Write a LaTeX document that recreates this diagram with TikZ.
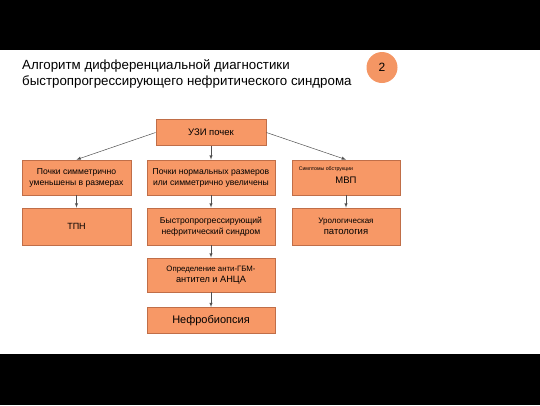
\documentclass[tikz,border=0pt]{standalone}
\usepackage{fontspec}
\setmainfont{Liberation Sans}
\definecolor{boxorange}{RGB}{247, 152, 102}
\definecolor{boxedge}{RGB}{192, 110, 72}
\definecolor{circleorange}{RGB}{244, 150, 100}
\definecolor{conngray}{RGB}{80, 80, 80}
\usetikzlibrary{positioning, calc}
\tikzset{
  stepbox/.style={rectangle, draw=boxedge, fill=boxorange, line width=0.8pt, minimum width=#1, minimum height=35pt, align=center, inner sep=1pt, font=\fontsize{8.6}{11}\selectfont},
  conn/.style={draw=conngray, line width=0.5pt, -latex},
  titletext/.style={font=\fontsize{13.3}{16}\selectfont, align=left, inner sep=0pt, anchor=north west},
}
\begin{document}
\begin{tikzpicture}[x=1pt, y=-1pt]
\useasboundingbox (0,0) rectangle (540,405);
% black bands
\fill[black] (0,0) rectangle (540,50);
\fill[black] (0,354) rectangle (540,405);
% title
\node[titletext] (title) at (22,59.5) {Алгоритм дифференциальной диагностики\\быстропрогрессирующего нефритического синдрома};
\node[circle, fill=circleorange, minimum size=31pt, inner sep=0pt, font=\fontsize{12}{14}\selectfont] (num) at (382,67.5) {2};
% boxes
\node[stepbox=110pt, minimum height=26pt, font=\fontsize{9.5}{11}\selectfont] (uzi) at (211,132.5) {УЗИ почек};
\node[stepbox=109pt] (small) at (76.5,177.5) {Почки симметрично\\уменьшены в размерах};
\node[stepbox=128pt] (normal) at (211,177.5) {Почки нормальных размеров\\или симметрично увеличены};
\node[stepbox=108pt, font=\fontsize{9.5}{11}\selectfont,
  label={[anchor=north west, inner sep=0pt, xshift=7pt, yshift=-7pt, font=\fontsize{5.2}{6}\selectfont]north west:Симптомы обструкции}] (mvp) at (346,177.5) {\\МВП};
\node[stepbox=109pt, minimum height=37pt, font=\fontsize{9}{11}\selectfont] (tpn) at (76.5,226.5) {ТПН};
\node[stepbox=128pt, minimum height=37pt] (rpgn) at (211,226.5) {Быстропрогрессирующий\\ нефритический синдром};
\node[stepbox=108pt, minimum height=37pt] (uro) at (346,226.5) {{\fontsize{8}{10}\selectfont Урологическая}\\{\fontsize{9.5}{11}\selectfont патология}};
\node[stepbox=128pt, minimum height=34pt] (anti) at (211,275) {{\fontsize{7.8}{10}\selectfont Определение анти-ГБМ-}\\{\fontsize{9.2}{12}\selectfont антител и АНЦА}};
\node[stepbox=128pt, minimum height=26pt, font=\fontsize{11}{12}\selectfont] (biopsy) at (211,320.5) {Нефробиопсия};
% connectors
\draw[conn] (uzi.west) -- (small.north);
\draw[conn] (uzi) -- (normal);
\draw[conn] (uzi.east) -- (mvp.north);
\draw[conn] (small) -- (tpn);
\draw[conn] (normal) -- (rpgn);
\draw[conn] (mvp) -- (uro);
\draw[conn] (rpgn) -- (anti);
\draw[conn] (anti) -- (biopsy);
\end{tikzpicture}
\end{document}
